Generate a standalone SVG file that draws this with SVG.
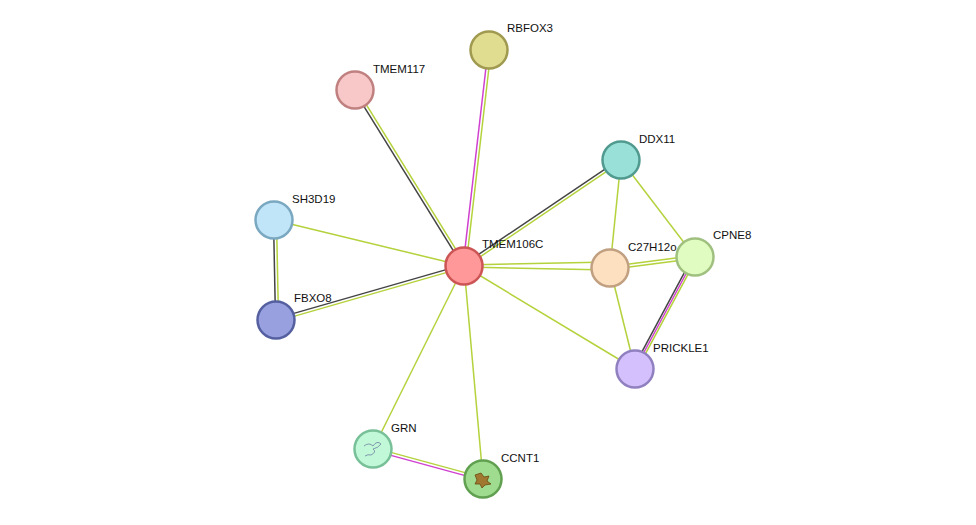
<svg xmlns="http://www.w3.org/2000/svg" width="976" height="525" viewBox="0 0 976 525">
<style>
.y{stroke:#b4d23c;stroke-width:1.5;fill:none}
.k{stroke:#444;stroke-width:1.5;fill:none}
.m{stroke:#d040d0;stroke-width:1.5;fill:none}
.n{stroke-width:2.5}
text{font-family:"Liberation Sans",Arial,sans-serif;font-size:11.5px;fill:#111}
</style>
<rect width="976" height="525" fill="#fff"/>
<g id="edges">
<line class="m" x1="463" y1="266" x2="488" y2="50"/><line class="y" x1="466" y1="266" x2="491" y2="50"/>
<line class="k" x1="463.3" y1="266.8" x2="354.3" y2="90.8"/><line class="y" x1="465.7" y1="265.2" x2="356.7" y2="89.2"/>
<line class="k" x1="463.2" y1="264.8" x2="620.2" y2="158.8"/><line class="y" x1="464.8" y1="267.2" x2="621.8" y2="161.2"/>
<line class="y" x1="464" y1="266" x2="274" y2="220"/>
<line class="k" x1="463.6" y1="264.6" x2="275.6" y2="318.6"/><line class="y" x1="464.4" y1="267.4" x2="276.4" y2="321.4"/>
<line class="y" x1="464" y1="265" x2="610" y2="262"/><line class="y" x1="464" y1="267" x2="610" y2="270"/>
<line class="y" x1="464" y1="266" x2="635" y2="369"/>
<line class="y" x1="464" y1="266" x2="373" y2="449"/>
<line class="y" x1="464" y1="266" x2="483" y2="479"/>
<line class="y" x1="621" y1="160" x2="610" y2="268"/>
<line class="y" x1="621" y1="160" x2="695" y2="257"/>
<line class="y" x1="610" y1="266.5" x2="695" y2="255.5"/><line class="y" x1="610" y1="269.5" x2="695" y2="258.5"/>
<line class="y" x1="610" y1="268" x2="635" y2="369"/>
<line class="k" x1="693.2" y1="256.1" x2="633.2" y2="368.1"/><line class="m" x1="695" y1="257" x2="635" y2="369"/><line class="y" x1="696.8" y1="257.9" x2="636.8" y2="369.9"/>
<line class="k" x1="273.5" y1="220" x2="275.5" y2="320"/><line class="y" x1="276.5" y1="220" x2="278.5" y2="320"/>
<line class="y" x1="373.4" y1="447.6" x2="483.4" y2="477.6"/><line class="m" x1="372.6" y1="450.4" x2="482.6" y2="480.4"/>
</g>
<g id="TMEM106C"><circle class="n" cx="464" cy="266" r="18.5" fill="#ff9898" stroke="#cc5555"/><text x="482" y="248">TMEM106C</text></g>
<g id="RBFOX3"><circle class="n" cx="489" cy="50" r="18.5" fill="#e0dc90" stroke="#a09a50"/><text x="507" y="32">RBFOX3</text></g>
<g id="TMEM117"><circle class="n" cx="355" cy="90" r="18.5" fill="#f8c8c8" stroke="#c08080"/><text x="373" y="73">TMEM117</text></g>
<g id="DDX11"><circle class="n" cx="621" cy="160" r="18.5" fill="#98e0d8" stroke="#509a90"/><text x="639" y="143">DDX11</text></g>
<g id="SH3D19"><circle class="n" cx="274" cy="220" r="18.5" fill="#c0e4f8" stroke="#7aa8c0"/><text x="292" y="203">SH3D19</text></g>
<g id="FBXO8"><circle class="n" cx="276" cy="320" r="18.5" fill="#98a0e0" stroke="#5560a0"/><text x="294" y="302">FBXO8</text></g>
<g id="C27H12o"><circle class="n" cx="610" cy="268" r="18.5" fill="#fde0c0" stroke="#c0a080"/><text x="628" y="251">C27H12o</text></g>
<g id="CPNE8"><circle class="n" cx="695" cy="257" r="18.5" fill="#e0fcc0" stroke="#a0c080"/><text x="713" y="239">CPNE8</text></g>
<g id="PRICKLE1"><circle class="n" cx="635" cy="369" r="18.5" fill="#d4c0fc" stroke="#9080c0"/><text x="653" y="352">PRICKLE1</text></g>
<g id="GRN"><circle class="n" cx="373" cy="449" r="18.5" fill="#c0f8d8" stroke="#78c098"/><path d="M364 446 q5 -4 9 0 q4 -6 8 -2 q-3 4 -8 5 q4 3 -2 6 q-3 -1 -6 1" fill="none" stroke="#7080a0" stroke-width="0.8"/><text x="391" y="432">GRN</text></g>
<g id="CCNT1"><circle class="n" cx="483" cy="479" r="18.5" fill="#a0dc90" stroke="#60a050"/><path d="M475 475 l6 -2 l3 4 l5 -1 l-2 5 l4 3 l-6 1 l-3 3 l-2 -4 l-5 0 l2 -4 z" fill="#a07830" stroke="#6a4a10" stroke-width="0.8"/><text x="501" y="462">CCNT1</text></g>
</svg>
